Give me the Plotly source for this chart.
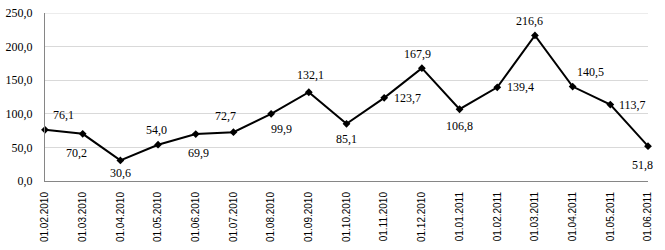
import plotly.graph_objects as go

dates = ["01.02.2010", "01.03.2010", "01.04.2010", "01.05.2010", "01.06.2010",
         "01.07.2010", "01.08.2010", "01.09.2010", "01.10.2010", "01.11.2010",
         "01.12.2010", "01.01.2011", "01.02.2011", "01.03.2011", "01.04.2011",
         "01.05.2011", "01.06.2011"]
values = [76.1, 70.2, 30.6, 54.0, 69.9, 72.7, 99.9, 132.1, 85.1, 123.7,
          167.9, 106.8, 139.4, 216.6, 140.5, 113.7, 51.8]
y_ticks = [0, 50, 100, 150, 200, 250]

# label offsets (pixels) relative to each point: style only
label_dx = [18, -6, 0, -2, 3, -8, 10, 2, 0, 23, -4, 0, 23, -5, 18, 22, -6]
label_dy = [-15, 19, 13, -15, 19, -16, 15, -17, 15, 0, -14, 17, 0, -14, -15, 0, 19]

SERIF = "Liberation Serif, Times New Roman, serif"

def fmt(v):
    return f"{v:.1f}".replace(".", ",")

fig = go.Figure()
fig.add_trace(go.Scatter(
    x=list(range(len(dates))), y=values, mode="lines+markers",
    line=dict(color="black", width=2),
    marker=dict(symbol="diamond", size=6, color="black"),
    cliponaxis=False, hoverinfo="skip",
))

annotations = []
for i, v in enumerate(values):
    annotations.append(dict(
        x=i, y=v, xref="x", yref="y", text=fmt(v), showarrow=False,
        xshift=label_dx[i], yshift=-label_dy[i],
        font=dict(family=SERIF, size=12, color="black"),
        xanchor="center", yanchor="middle",
    ))

fig.update_layout(
    width=665, height=250,
    margin=dict(l=44, r=17, t=6, b=69),
    paper_bgcolor="white", plot_bgcolor="white",
    showlegend=False,
    annotations=annotations,
    shapes=[dict(type="line", xref="paper", yref="y", x0=0, x1=1,
                 y0=y_ticks[-1], y1=y_ticks[-1],
                 line=dict(color="#d9d9d9", width=1), layer="below")],
)
fig.update_xaxes(
    range=[0, len(dates) - 1],
    tickmode="array", tickvals=list(range(len(dates))), ticktext=dates,
    tickangle=-90, showgrid=False, zeroline=False,
    showline=True, linecolor="#868686", linewidth=1,
    ticks="", ticklabelstandoff=6,
    tickfont=dict(family="Liberation Sans", size=10, color="black"),
)
fig.update_yaxes(
    range=[0, 250],
    tickmode="array", tickvals=y_ticks, ticktext=[fmt(t) for t in y_ticks],
    showgrid=True, gridcolor="#d9d9d9", gridwidth=1, zeroline=False,
    showline=True, linecolor="#868686", linewidth=1,
    ticks="", ticklabelstandoff=9, ticklabeloverflow="allow",
    tickfont=dict(family=SERIF, size=12, color="black"),
)

fig.write_html("out.html")
